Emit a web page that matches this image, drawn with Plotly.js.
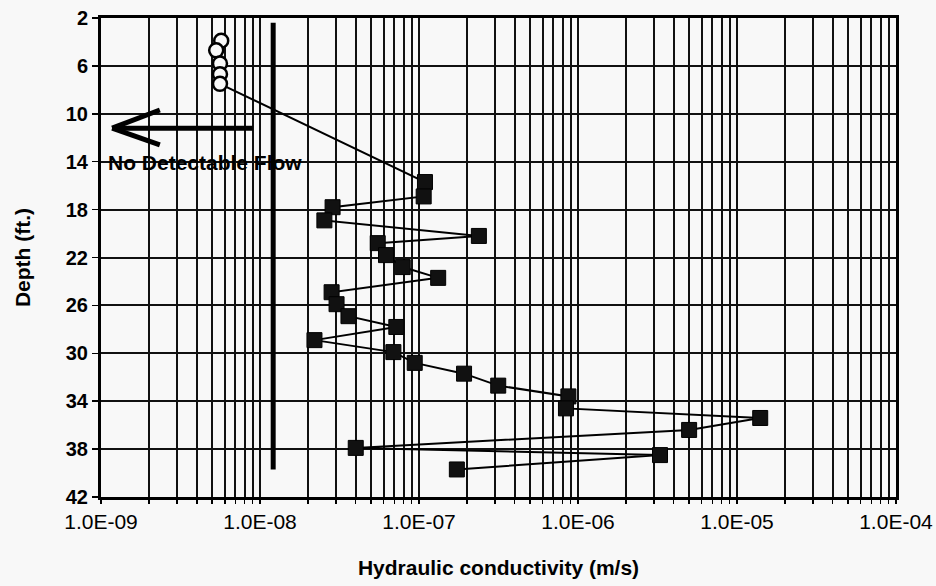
<!DOCTYPE html>
<html>
<head>
<meta charset="utf-8">
<script src="https://cdn.plot.ly/plotly-3.0.1.min.js"></script>
<style>
  html, body { margin: 0; padding: 0; background: #f8f8f8; }
  #chart { width: 936px; height: 586px; }
</style>
</head>
<body>
<div id="chart"></div>
<script>
// Hydraulic conductivity (m/s) vs depth (ft.)
// Upper points (open circles): no detectable flow zone
const circleK = [5.7e-9, 5.3e-9, 5.6e-9, 5.6e-9, 5.6e-9];
const circleDepth = [3.9, 4.7, 5.8, 6.7, 7.5];

// Lower points (filled squares)
const squareK = [1.09e-7, 1.07e-7, 2.86e-8, 2.54e-8, 2.38e-7, 5.5e-8, 6.2e-8, 7.9e-8,
  1.32e-7, 2.82e-8, 3.03e-8, 3.6e-8, 7.2e-8, 2.2e-8, 6.9e-8, 9.4e-8,
  1.92e-7, 3.15e-7, 8.7e-7, 8.4e-7, 1.4e-5, 5.0e-6, 4.0e-8, 3.28e-6, 1.73e-7];
const squareDepth = [15.7, 16.9, 17.8, 18.9, 20.2, 20.8, 21.8, 22.8,
  23.7, 24.9, 25.9, 26.9, 27.8, 28.9, 29.9, 30.8,
  31.7, 32.7, 33.6, 34.6, 35.4, 36.4, 37.9, 38.5, 39.7];

// Detection limit line
const limitK = [1.21e-8, 1.21e-8];
const limitDepth = [2.4, 39.7];

// Axis ticks
const decadeTicks = [1e-9, 1e-8, 1e-7, 1e-6, 1e-5, 1e-4];
const decadeLabels = ["1.0E-09", "1.0E-08", "1.0E-07", "1.0E-06", "1.0E-05", "1.0E-04"];
const depthTicks = [2, 6, 10, 14, 18, 22, 26, 30, 34, 38, 42];

const annotationText = "No Detectable Flow";
const xTitle = "Hydraulic conductivity (m/s)";
const yTitle = "Depth (ft.)";

// Build tick positions for log gridlines (1..9 in every decade)
const xTickVals = [];
const xTickText = [];
for (let i = 0; i < decadeTicks.length; i++) {
  const d = decadeTicks[i];
  if (i === decadeTicks.length - 1) { xTickVals.push(d); xTickText.push(decadeLabels[i]); break; }
  for (let m = 1; m <= 9; m++) {
    xTickVals.push(d * m);
    xTickText.push(m === 1 ? decadeLabels[i] : "");
  }
}

const allK = circleK.concat(squareK);
const allDepth = circleDepth.concat(squareDepth);

const traces = [
  {
    x: limitK, y: limitDepth, mode: 'lines', type: 'scatter',
    line: {color: '#000', width: 5}, hoverinfo: 'skip', showlegend: false
  },
  {
    x: allK, y: allDepth, mode: 'lines', type: 'scatter',
    line: {color: '#000', width: 2}, showlegend: false
  },
  {
    x: circleK, y: circleDepth, mode: 'markers', type: 'scatter',
    marker: {symbol: 'circle', size: 14, color: '#f8f8f8', line: {color: '#000', width: 2.5}},
    showlegend: false
  },
  {
    x: squareK, y: squareDepth, mode: 'markers', type: 'scatter',
    marker: {symbol: 'square', size: 15, color: '#111', line: {color: '#000', width: 1}},
    showlegend: false
  }
];

const layout = {
  width: 936, height: 586,
  margin: {l: 101, r: 40, t: 18, b: 89},
  paper_bgcolor: '#f8f8f8',
  plot_bgcolor: '#f8f8f8',
  showlegend: false,
  font: {family: 'Liberation Sans, Arial, sans-serif', color: '#000'},
  xaxis: {
    type: 'log',
    range: [-9.0002, -3.9998],
    tickmode: 'array',
    tickvals: xTickVals,
    ticktext: xTickText,
    tickfont: {family: 'Liberation Sans, Arial', size: 21, color: '#000'},
    ticks: 'outside', ticklen: 4, tickwidth: 1.5, tickcolor: '#000',
    showgrid: true, gridcolor: '#111', gridwidth: 2,
    showline: true, linecolor: '#000', linewidth: 3, mirror: true,
    zeroline: false,
    title: {text: xTitle, font: {family: 'Liberation Sans, Arial', size: 21, weight: 'bold', color: '#000'}, standoff: 29}
  },
  yaxis: {
    range: [42, 2],
    tickmode: 'array',
    tickvals: depthTicks,
    tickfont: {family: 'Liberation Sans, Arial', size: 20, weight: 'bold', color: '#000'},
    ticks: 'outside', ticklen: 6, tickwidth: 1.5, tickcolor: '#000',
    showgrid: true, gridcolor: '#111', gridwidth: 2,
    showline: true, linecolor: '#000', linewidth: 3, mirror: true,
    zeroline: false,
    title: {text: yTitle, font: {family: 'Liberation Sans, Arial', size: 21, weight: 'bold', color: '#000'}, standoff: 30}
  },
  shapes: [
    // arrow shaft and head (pointing left)
    {type: 'line', xref: 'paper', yref: 'paper', x0: 0.016, y0: 0.770, x1: 0.191, y1: 0.770, line: {color: '#000', width: 5}},
    {type: 'line', xref: 'paper', yref: 'paper', x0: 0.014, y0: 0.770, x1: 0.074, y1: 0.808, line: {color: '#000', width: 5}},
    {type: 'line', xref: 'paper', yref: 'paper', x0: 0.014, y0: 0.770, x1: 0.074, y1: 0.735, line: {color: '#000', width: 5}}
  ],
  annotations: [
    {
      xref: 'paper', yref: 'paper', x: 0.131, y: 0.699,
      text: annotationText, showarrow: false,
      font: {family: 'Liberation Sans, Arial', size: 21, weight: 'bold', color: '#000'},
      xanchor: 'center', yanchor: 'middle'
    }
  ]
};

Plotly.newPlot('chart', traces, layout, {staticPlot: true, displayModeBar: false});
</script>
</body>
</html>
